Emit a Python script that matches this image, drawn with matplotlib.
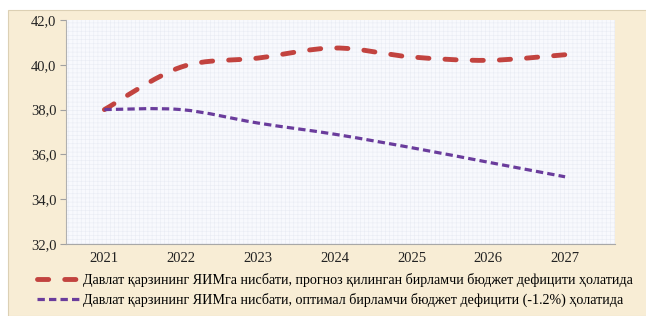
import matplotlib.pyplot as plt
import numpy as np
from matplotlib.path import Path
from matplotlib.patches import PathPatch, Rectangle
from matplotlib.lines import Line2D

years = [2021, 2022, 2023, 2024, 2025, 2026, 2027]
forecast = [38.0, 39.9, 40.3, 40.75, 40.35, 40.2, 40.45]
optimal = [38.0, 38.0, 37.4, 36.9, 36.3, 35.65, 35.0]
labels = ['Давлат қарзининг ЯИМга нисбати, прогноз қилинган бирламчи бюджет дефицити ҳолатида',
          'Давлат қарзининг ЯИМга нисбати, оптимал бирламчи бюджет дефицити (-1.2%) ҳолатида']

red = '#C2433F'
purple = '#6A3C9C'
cream = '#F8EDD5'

plt.rcParams['font.family'] = ['Liberation Serif', 'DejaVu Serif']
plt.rcParams['hatch.linewidth'] = 0.4


# сглаженная линия как в Excel (Catmull-Rom -> Безье)
def smooth_path(x, y):
    p = np.column_stack([x, y]).astype(float)
    pts = [p[0]]
    codes = [Path.MOVETO]
    n = len(p)
    for i in range(n - 1):
        p0 = p[i - 1] if i > 0 else p[i]
        p3 = p[i + 2] if i + 2 < n else p[i + 1]
        c1 = p[i] + (p[i + 1] - p0) / 6
        c2 = p[i + 1] - (p3 - p[i]) / 6
        pts += [c1, c2, p[i + 1]]
        codes += [Path.CURVE4] * 3
    return Path(pts, codes)


red_ls = (0, (2.3, 3.3))
purple_ls = (0, (2.3, 1.3))

fig = plt.figure(figsize=(6.46, 3.16), dpi=100)
fig.patch.set_facecolor('white')
fig.add_artist(Rectangle((8 / 646, 0), 1, (316 - 10) / 316, transform=fig.transFigure,
                         facecolor=cream, edgecolor='#DCD0B4', linewidth=0.8, zorder=0))

ax = fig.add_axes([66 / 646, 72 / 316, (615 - 66) / 646, (244 - 20) / 316])
ax.set_facecolor('#F8F9FD')
ax.add_patch(Rectangle((0, 0), 1, 1, transform=ax.transAxes, facecolor='none',
                       edgecolor='#E9ECF4', hatch='++++', linewidth=0, zorder=0))

ax.add_patch(PathPatch(smooth_path(years, forecast), fill=False, edgecolor=red, linewidth=3.5,
                       linestyle=red_ls, capstyle='round', zorder=3))
ax.add_patch(PathPatch(smooth_path(years, optimal), fill=False, edgecolor=purple, linewidth=2.3,
                       linestyle=purple_ls, capstyle='butt', zorder=3))

ax.set_xlim(2020.5, 2027.65)
ax.set_ylim(32, 42)
ax.set_yticks(np.arange(32, 42.1, 2))
ax.set_yticklabels([f'{v:.1f}'.replace('.', ',') for v in np.arange(32, 42.1, 2)])
ax.set_xticks(years)
ax.set_xticklabels([str(y) for y in years])
ax.tick_params(axis='y', labelsize=10.5, length=4, color='#A0A0A0', pad=3, labelcolor='#222222')
ax.tick_params(axis='x', labelsize=10.5, length=0, pad=6, labelcolor='#222222')
for s in ['top', 'right']:
    ax.spines[s].set_visible(False)
ax.spines['left'].set_color('#B0B0B0')
ax.spines['bottom'].set_color('#A8A8A8')

handles = [Line2D([], [], color=red, linewidth=3.5, linestyle=red_ls, dash_capstyle='round'),
           Line2D([], [], color=purple, linewidth=2.3, linestyle=purple_ls)]
fig.legend(handles, labels, loc='upper left', bbox_to_anchor=(37 / 646, (316 - 273) / 316),
           frameon=False, fontsize=10.1, handlelength=3.0, handletextpad=0.25,
           labelspacing=0.45, borderaxespad=0, borderpad=0)

fig.savefig('out.png', dpi=100, facecolor=fig.get_facecolor())
